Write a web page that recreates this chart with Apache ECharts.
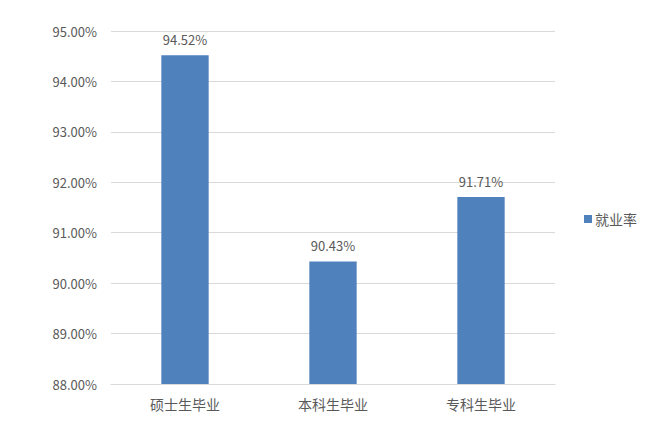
<!DOCTYPE html>
<html>
<head>
<meta charset="utf-8">
<script src="https://cdn.jsdelivr.net/npm/echarts@6/dist/echarts.min.js"></script>
<style>
  html, body { margin: 0; padding: 0; background: #fff; }
  #chart { width: 670px; height: 433px; }
</style>
</head>
<body>
<div id="chart"></div>
<script>
var categories = ['硕士生毕业', '本科生毕业', '专科生毕业'];
var seriesName = '就业率';
var rates = [94.52, 90.43, 91.71];
var yMin = 88, yMax = 95, yStep = 1;

var labelColor = '#595959';
var barColor = '#4f81bd';
var gridColor = '#d9d9d9';

var chart = echarts.init(document.getElementById('chart'), null, { renderer: 'svg' });
chart.setOption({
  animation: false,
  textStyle: { fontFamily: '"Noto Sans CJK SC", "Noto Sans", sans-serif' },
  grid: { left: 111, right: 115, top: 31, bottom: 49 },
  legend: {
    data: [seriesName],
    orient: 'vertical',
    left: 579,
    top: 207,
    itemWidth: 8,
    itemHeight: 8,
    itemGap: 4,
    icon: 'rect',
    textStyle: { color: labelColor, fontSize: 14, padding: [0, 0, 0, -2] }
  },
  xAxis: {
    type: 'category',
    data: categories,
    axisTick: { show: false },
    axisLine: { lineStyle: { color: gridColor, width: 1 } },
    axisLabel: { color: labelColor, fontSize: 14, margin: 13 }
  },
  yAxis: {
    type: 'value',
    min: yMin,
    max: yMax,
    interval: yStep,
    axisLine: { show: false },
    axisTick: { show: false },
    splitLine: { lineStyle: { color: gridColor, width: 1 } },
    axisLabel: {
      color: labelColor,
      fontSize: 13,
      margin: 14,
      formatter: function(v) { return v.toFixed(2) + '%'; }
    }
  },
  series: [{
    name: seriesName,
    type: 'bar',
    data: rates,
    barWidth: '32%',
    itemStyle: { color: barColor },
    label: {
      show: true,
      position: 'top',
      distance: 9,
      color: labelColor,
      fontSize: 13,
      formatter: function(p) { return p.value.toFixed(2) + '%'; }
    }
  }]
});
</script>
</body>
</html>
